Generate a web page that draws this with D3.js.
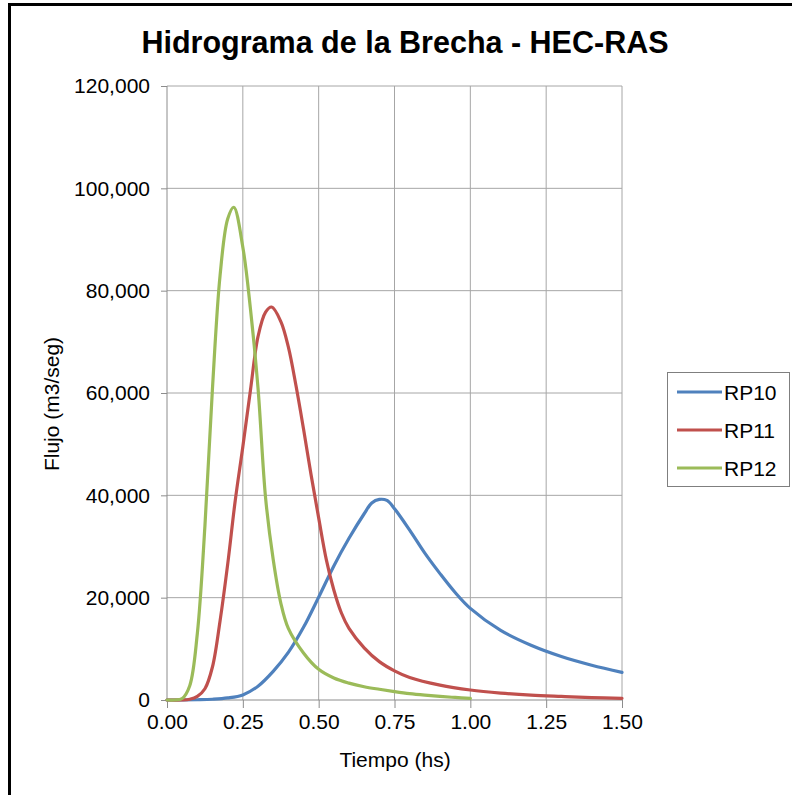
<!DOCTYPE html>
<html lang="es">
<head>
    <meta charset="utf-8">
    <style type="text/css">
        body { margin: 0; background: #fff; }
        text { font-family: "Liberation Sans", Arial, sans-serif; fill: #000; }
        .grid line { stroke: #a6a6a6; stroke-width: 1; }
        .axis path, .axis line { stroke: #8c8c8c; stroke-width: 1; }
        .axis text { font-size: 21px; }
        .serie { fill: none; stroke-width: 3.2; stroke-linejoin: round; stroke-linecap: round; }
    </style>
</head>
<body>
<svg width="792" height="795"></svg>

<script src="https://d3js.org/d3.v7.min.js"></script>
<script type="text/javascript">

    // hidrogramas (tiempo en hs, flujo en m3/seg)
    var rp10Tiempo = [0, 0.05, 0.1, 0.15, 0.2, 0.25, 0.3, 0.35, 0.4, 0.45, 0.5, 0.55, 0.6, 0.65, 0.675, 0.7, 0.725, 0.75, 0.8, 0.85, 0.9, 0.95, 1.0, 1.1, 1.2, 1.3, 1.4, 1.5];
    var rp10Flujo  = [0, 0, 50, 150, 400, 1000, 2700, 5600, 9300, 14200, 20100, 26200, 31600, 36400, 38500, 39200, 39000, 37400, 33200, 28700, 24700, 21000, 17900, 13600, 10700, 8500, 6800, 5400];

    var rp11Tiempo = [0, 0.05, 0.075, 0.1, 0.125, 0.15, 0.175, 0.2, 0.225, 0.25, 0.275, 0.3, 0.325, 0.345, 0.375, 0.4, 0.425, 0.45, 0.475, 0.5, 0.525, 0.55, 0.575, 0.6, 0.65, 0.7, 0.75, 0.8, 0.9, 1.0, 1.1, 1.2, 1.3, 1.4, 1.5];
    var rp11Flujo  = [0, 0, 150, 700, 2200, 6500, 15500, 26500, 39000, 49500, 60500, 71000, 75800, 76800, 74000, 69000, 61500, 53000, 44000, 35600, 27500, 21500, 17000, 14000, 10200, 7500, 5700, 4400, 2900, 1950, 1350, 950, 700, 480, 330];

    var rp12Tiempo = [0, 0.025, 0.05, 0.075, 0.1, 0.125, 0.15, 0.175, 0.2, 0.22, 0.25, 0.275, 0.3, 0.325, 0.35, 0.375, 0.4, 0.45, 0.5, 0.55, 0.6, 0.65, 0.7, 0.75, 0.8, 0.85, 0.9, 0.95, 1.0];
    var rp12Flujo  = [0, 0, 300, 2800, 13000, 34000, 61000, 83000, 94000, 96300, 88500, 76500, 61000, 39500, 27500, 19000, 14000, 9200, 6000, 4300, 3300, 2600, 2100, 1650, 1250, 950, 700, 500, 330];

    var series  = ["RP10", "RP11", "RP12"];
    var colores = ["#4f81bd", "#c0504d", "#9bbb59"];
    var xTicks = [0, 0.25, 0.5, 0.75, 1.0, 1.25, 1.5];
    var yTicks = [0, 20000, 40000, 60000, 80000, 100000, 120000];

    var datos = [
        d3.zip(rp10Tiempo, rp10Flujo),
        d3.zip(rp11Tiempo, rp11Flujo),
        d3.zip(rp12Tiempo, rp12Flujo)
    ];

    var svg = d3.select("svg");
    var x0 = 167, x1 = 622, y0 = 700, y1 = 86;

    var x = d3.scaleLinear().domain([0, 1.5]).range([x0, x1]);
    var y = d3.scaleLinear().domain([0, 120000]).range([y0, y1]);

    // marco del grafico (cortado a la derecha y abajo)
    svg.append("rect")
        .attr("x", 9.5).attr("y", 4.5)
        .attr("width", 800).attr("height", 800)
        .attr("fill", "none").attr("stroke", "#000").attr("stroke-width", 3);

    svg.append("text")
        .attr("x", 405).attr("y", 53)
        .attr("text-anchor", "middle")
        .style("font-size", "30.5px").style("font-weight", "bold")
        .text("Hidrograma de la Brecha - HEC-RAS");

    var grid = svg.append("g").attr("class", "grid");
    grid.selectAll(".gx").data(xTicks.slice(1)).enter().append("line")
        .attr("x1", function (d) {return x(d);}).attr("x2", function (d) {return x(d);})
        .attr("y1", y1).attr("y2", y0);
    grid.selectAll(".gy").data(yTicks.slice(1)).enter().append("line")
        .attr("x1", x0).attr("x2", x1)
        .attr("y1", function (d) {return y(d);}).attr("y2", function (d) {return y(d);});

    svg.append("g").attr("class", "axis")
        .attr("transform", "translate(0," + y0 + ")")
        .call(d3.axisBottom(x).tickValues(xTicks).tickFormat(d3.format(".2f"))
            .tickSizeInner(8).tickSizeOuter(0).tickPadding(6));

    svg.append("g").attr("class", "axis")
        .attr("transform", "translate(" + x0 + ",0)")
        .call(d3.axisLeft(y).tickValues(yTicks).tickFormat(d3.format(","))
            .tickSizeInner(6).tickSizeOuter(0).tickPadding(11));

    svg.selectAll(".axis .domain").attr("d", null);
    svg.append("line")
        .attr("x1", x0).attr("x2", x0).attr("y1", y1).attr("y2", y0)
        .style("stroke", "#8c8c8c");
    svg.append("line")
        .attr("x1", x0).attr("x2", x1).attr("y1", y0).attr("y2", y0)
        .style("stroke", "#8c8c8c");

    svg.append("text")
        .attr("x", 395).attr("y", 767)
        .attr("text-anchor", "middle")
        .style("font-size", "21px")
        .text("Tiempo (hs)");

    svg.append("text")
        .attr("transform", "translate(59,404) rotate(-90)")
        .attr("text-anchor", "middle")
        .style("font-size", "21px")
        .text("Flujo (m3/seg)");

    var linea = d3.line()
        .x(function (d) {return x(d[0]);})
        .y(function (d) {return y(Math.max(0, d[1]));})
        .curve(d3.curveCatmullRom.alpha(0.5));

    svg.selectAll(".serie").data(datos).enter().append("path")
        .attr("class", "serie")
        .attr("stroke", function (d, i) {return colores[i];})
        .attr("d", linea);

    // leyenda
    var ley = svg.append("g").attr("transform", "translate(667,372)");
    ley.append("rect")
        .attr("x", 0.5).attr("y", 0.5).attr("width", 122).attr("height", 114)
        .attr("fill", "#fff").attr("stroke", "#7f7f7f").attr("stroke-width", 1);
    var item = ley.selectAll(".item").data(series).enter().append("g")
        .attr("transform", function (d, i) {return "translate(0," + (20 + i * 38) + ")";});
    item.append("line")
        .attr("x1", 10).attr("x2", 55)
        .attr("stroke", function (d, i) {return colores[i];})
        .attr("stroke-width", 3.2);
    item.append("text")
        .attr("x", 57).attr("y", 7.5)
        .style("font-size", "21px")
        .text(function (d) {return d;});

</script>
</body>
</html>
